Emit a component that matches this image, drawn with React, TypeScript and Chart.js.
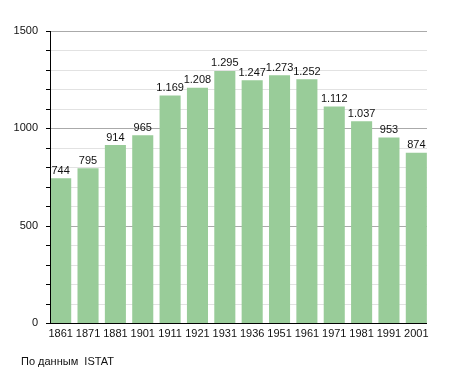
import React, { useEffect, useRef } from "react";
import { Chart, registerables } from "chart.js";

Chart.register(...registerables);

const years = ["1861", "1871", "1881", "1901", "1911", "1921", "1931", "1936", "1951", "1961", "1971", "1981", "1991", "2001"];
const population = [744, 795, 914, 965, 1169, 1208, 1295, 1247, 1273, 1252, 1112, 1037, 953, 874];
const yMajorTicks = [0, 500, 1000, 1500];
const yMinorStep = 100;
const sourceNote = "По данным  ISTAT";

const FONT = "'Liberation Sans', Arial, sans-serif";
const INSET = 3;

const fmt = (v: number) => String(v).replace(/\B(?=(\d{3})+(?!\d))/g, ".");

const axesPlugin = {
  id: "customAxes",
  beforeDatasetsDraw(chart: any) {
    const ctx = chart.ctx;
    const { left, right, top, bottom } = chart.chartArea;
    const y = chart.scales.y;
    const x0 = left + INSET;
    const x1 = right - INSET;
    ctx.save();
    ctx.lineWidth = 1;
    for (let v = y.min; v <= y.max; v += yMinorStep) {
      const py = Math.round(y.getPixelForValue(v)) + 0.5;
      const major = yMajorTicks.includes(v);
      if (v !== 0) {
        ctx.strokeStyle = major ? "#aaa" : "#e2e2e2";
        ctx.beginPath();
        ctx.moveTo(x0, py);
        ctx.lineTo(x1, py);
        ctx.stroke();
      }
      ctx.strokeStyle = "#000";
      ctx.beginPath();
      ctx.moveTo(x0 - 4, py);
      ctx.lineTo(x0, py);
      ctx.stroke();
    }
    ctx.restore();
  },
  afterDatasetsDraw(chart: any) {
    const ctx = chart.ctx;
    const { left, right, top, bottom } = chart.chartArea;
    const x0 = Math.round(left + INSET) + 0.5;
    const x1 = right - INSET;
    ctx.save();
    ctx.strokeStyle = "#000";
    ctx.lineWidth = 1;
    ctx.beginPath();
    ctx.moveTo(x0, top);
    ctx.lineTo(x0, Math.round(bottom) + 0.5);
    ctx.moveTo(x0 - 4, Math.round(bottom) + 0.5);
    ctx.lineTo(x1, Math.round(bottom) + 0.5);
    ctx.stroke();
    ctx.font = "11px " + FONT;
    ctx.fillStyle = "#111";
    ctx.textAlign = "center";
    ctx.textBaseline = "bottom";
    const meta = chart.getDatasetMeta(0);
    meta.data.forEach((bar: any, i: number) => {
      ctx.fillText(fmt(population[i]), bar.x, bar.y - 2);
    });
    ctx.restore();
  },
};

export default function App() {
  const ref = useRef<HTMLCanvasElement>(null);
  useEffect(() => {
    const chart = new Chart(ref.current!, {
      type: "bar",
      data: {
        labels: years,
        datasets: [
          {
            data: population,
            backgroundColor: "#99cc99",
            borderWidth: 0,
            barPercentage: 0.77,
            categoryPercentage: 1,
          },
        ],
      },
      options: {
        animation: false,
        responsive: false,
        maintainAspectRatio: false,
        layout: { padding: { left: 0, right: 25, top: 31, bottom: 0 } },
        plugins: { legend: { display: false }, tooltip: { enabled: false } },
        scales: {
          x: {
            grid: { display: false, drawTicks: false },
            border: { display: false },
            ticks: { color: "#111", font: { family: FONT, size: 11 }, padding: 4, maxRotation: 0, autoSkip: false },
            afterFit(scale: any) {
              scale.height = 50;
            },
          },
          y: {
            min: 0,
            max: 1500,
            grid: { display: false, drawTicks: false },
            border: { display: false },
            ticks: {
              stepSize: 100,
              autoSkip: false,
              color: "#111",
              font: { family: FONT, size: 11 },
              padding: 9,
              callback: (v: any) => (yMajorTicks.includes(Number(v)) ? String(v) : ""),
            },
            afterFit(scale: any) {
              scale.width = 47;
            },
          },
        },
      },
      plugins: [axesPlugin],
    });
    return () => chart.destroy();
  }, []);
  return (
    <div style={{ position: "absolute", left: 0, top: 0, width: 455, height: 373, background: "#fff" }}>
      <canvas ref={ref} width={455} height={373} style={{ position: "absolute", left: 0, top: 0 }} />
      <div
        style={{
          position: "absolute",
          left: 21,
          top: 355,
          fontFamily: FONT,
          fontSize: 11,
          color: "#111",
          whiteSpace: "pre",
        }}
      >
        {sourceNote}
      </div>
    </div>
  );
}
